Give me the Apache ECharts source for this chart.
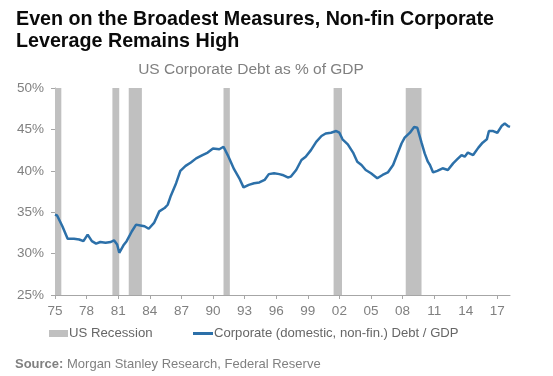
<!DOCTYPE html>
<html>
<head>
<meta charset="utf-8">
<script src="https://cdn.jsdelivr.net/npm/echarts@6/dist/echarts.min.js"></script>
<style>
  html, body { margin: 0; padding: 0; background: #fff; }
  #chart { width: 553px; height: 376px; }
</style>
</head>
<body>
<div id="chart"></div>
<script>
// quarter positions (decimal year) and debt / GDP (%)
const years = [
  1975.0, 1975.2, 1975.7, 1976.2, 1976.8, 1977.3, 1977.7, 1978.1, 1978.5, 1978.9,
  1979.3, 1979.8, 1980.3, 1980.6, 1980.9, 1981.1, 1981.5, 1981.8, 1982.3, 1982.7,
  1983.1, 1983.5, 1983.9, 1984.4, 1984.9, 1985.4, 1985.7, 1986.0, 1986.5, 1986.9,
  1987.4, 1987.9, 1988.4, 1989.0, 1989.5, 1990.0, 1990.6, 1991.0, 1991.4, 1992.0,
  1992.5, 1992.9, 1993.4, 1993.9, 1994.4, 1994.9, 1995.3, 1995.8, 1996.3, 1996.6,
  1997.1, 1997.4, 1997.9, 1998.4, 1998.8, 1999.3, 1999.8, 2000.3, 2000.7, 2001.2,
  2001.7, 2002.0, 2002.3, 2002.8, 2003.3, 2003.7, 2004.1, 2004.5, 2005.0, 2005.6,
  2006.1, 2006.6, 2007.1, 2007.5, 2007.9, 2008.2, 2008.7, 2009.1, 2009.4, 2009.8,
  2010.1, 2010.4, 2010.6, 2010.9, 2011.3, 2011.8, 2012.3, 2012.8, 2013.2, 2013.6,
  2013.9, 2014.2, 2014.7, 2015.2, 2015.6, 2016.0, 2016.2, 2016.6, 2017.0, 2017.4,
  2017.7, 2018.0, 2018.2
];
const debtPct = [
  34.7, 34.6, 33.3, 31.8, 31.8, 31.7, 31.5, 32.3, 31.5, 31.2,
  31.4, 31.3, 31.4, 31.6, 31.1, 30.1, 31.0, 31.5, 32.7, 33.5,
  33.4, 33.3, 33.0, 33.7, 35.1, 35.5, 35.9, 37.0, 38.5, 40.0,
  40.6, 41.0, 41.5, 41.9, 42.2, 42.7, 42.6, 42.9, 41.9, 40.2,
  39.1, 38.0, 38.3, 38.5, 38.6, 38.9, 39.6, 39.7, 39.6, 39.5,
  39.2, 39.3, 40.1, 41.3, 41.7, 42.5, 43.5, 44.2, 44.5, 44.6,
  44.8, 44.6, 43.8, 43.2, 42.2, 41.1, 40.7, 40.1, 39.7, 39.1,
  39.5, 39.8, 40.7, 42.0, 43.3, 44.0, 44.6, 45.3, 45.2, 43.4,
  42.1, 41.1, 40.7, 39.8, 40.0, 40.3, 40.1, 40.9, 41.4, 41.9,
  41.7, 42.2, 41.9, 42.8, 43.4, 43.8, 44.8, 44.8, 44.6, 45.4,
  45.7, 45.4, 45.3
];
// recession shading, start / end as drawn
const recessionStart = [1975.0, 1980.45, 1982.0, 1991.0, 2001.45, 2008.3];
const recessionEnd   = [1975.6, 1981.1, 1983.25, 1991.6, 2002.25, 2009.8];
const xTicks = [1975, 1978, 1981, 1984, 1987, 1990, 1993, 1996, 1999, 2002, 2005, 2008, 2011, 2014, 2017];
const yTicks = [25, 30, 35, 40, 45, 50];

const lineName = 'Corporate (domestic, non-fin.) Debt / GDP';
const recName = 'US Recession';
const font = 'Liberation Sans, Arial, sans-serif';
const lineColor = '#2c70a9';
const recColor = '#c0c0c0';

const myChart = echarts.init(document.getElementById('chart'));
const option = {
  animation: false,
  textStyle: { fontFamily: font },
  title: [
    {
      text: 'Even on the Broadest Measures, Non-fin Corporate\nLeverage Remains High',
      left: 11,
      top: 3,
      textStyle: { fontSize: 19.7, fontWeight: 'bold', color: '#0a0a0a', lineHeight: 22.5, fontFamily: font }
    },
    {
      text: 'US Corporate Debt as % of GDP',
      left: 246,
      textAlign: 'center',
      top: 56,
      textStyle: { fontSize: 15.5, fontWeight: 'normal', color: '#808080', lineHeight: 18, fontFamily: font }
    },
    {
      text: '{b|Source:} Morgan Stanley Research, Federal Reserve',
      left: 10,
      top: 353,
      textStyle: {
        fontSize: 13, fontWeight: 'normal', color: '#808080', fontFamily: font,
        rich: { b: { fontSize: 13, fontWeight: 'bold', color: '#808080', fontFamily: font } }
      }
    }
  ],
  legend: [
    {
      left: 44,
      top: 322,
      icon: 'rect',
      itemWidth: 19,
      itemHeight: 7,
      data: [{ name: recName, itemStyle: { color: recColor } }],
      textStyle: { fontSize: 13.2, color: '#666', padding: [0, 0, 0, -4] }
    },
    {
      left: 188,
      top: 322,
      icon: 'rect',
      itemWidth: 20,
      itemHeight: 3,
      data: [{ name: lineName, itemStyle: { color: lineColor } }],
      textStyle: { fontSize: 13.1, color: '#666', padding: [0, 0, 0, -4] }
    }
  ],
  grid: { left: 55, right: 43, top: 88, bottom: 81 },
  xAxis: {
    type: 'value',
    min: 1975,
    max: 2018.2,
    splitLine: { show: false },
    axisLine: { show: true, lineStyle: { color: '#a6a6a6', width: 1 } },
    axisTick: { show: true, length: 4, lineStyle: { color: '#a6a6a6' }, customValues: xTicks },
    axisLabel: {
      color: '#808080',
      fontSize: 13.5,
      margin: 9,
      customValues: xTicks,
      formatter: v => String(Math.round(v) % 100).padStart(2, '0')
    }
  },
  yAxis: {
    type: 'value',
    min: 25,
    max: 50,
    interval: 5,
    splitLine: { show: false },
    axisLine: { show: true, lineStyle: { color: '#a6a6a6', width: 1 } },
    axisTick: { show: true, length: 4, lineStyle: { color: '#a6a6a6' }, customValues: yTicks },
    axisLabel: { color: '#808080', fontSize: 13.5, margin: 11, formatter: '{value}%', customValues: yTicks }
  },
  series: [
    {
      name: recName,
      type: 'line',
      data: [],
      z: 1,
      itemStyle: { color: recColor },
      markArea: {
        silent: true,
        itemStyle: { color: recColor },
        data: recessionStart.map((s, i) => [{ xAxis: s }, { xAxis: recessionEnd[i] }])
      }
    },
    {
      name: lineName,
      type: 'line',
      z: 3,
      data: years.map((y, i) => [y, debtPct[i]]),
      showSymbol: false,
      symbol: 'none',
      lineStyle: { color: lineColor, width: 2.5 },
      itemStyle: { color: lineColor }
    }
  ]
};
myChart.setOption(option);
</script>
</body>
</html>
